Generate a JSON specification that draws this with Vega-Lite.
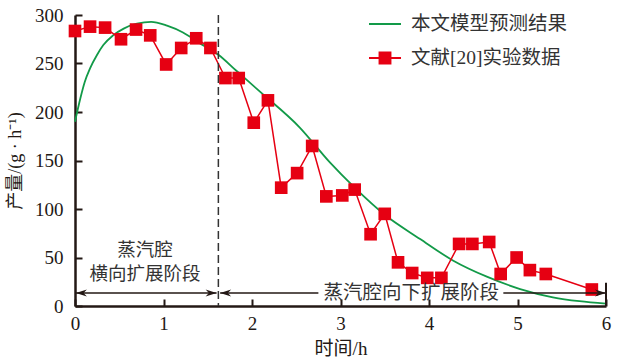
{
  "$schema": "https://vega.github.io/schema/vega-lite/v6.json",
  "width": 531,
  "height": 291,
  "autosize": {"type": "none"},
  "padding": {"left": 75, "top": 15, "right": 37, "bottom": 57},
  "background": "white",
  "config": {
    "view": {"stroke": null},
    "font": "Liberation Serif, Noto Sans CJK SC",
    "axis": {
      "domainColor": "#231815",
      "domainWidth": 2.5,
      "tickColor": "#231815",
      "tickWidth": 2,
      "tickSize": -7,
      "grid": false,
      "labelFlush": false,
      "labelFont": "Liberation Serif",
      "labelFontSize": 19,
      "labelColor": "#231815",
      "titleFont": "Liberation Serif, Noto Sans CJK SC",
      "titleFontSize": 18,
      "titleFontWeight": "normal",
      "titleColor": "#231815"
    },
    "legend": {
      "padding": 0,
      "labelFont": "Liberation Serif, Noto Sans CJK SC",
      "labelFontSize": 19.5,
      "labelColor": "#333333",
      "labelOffset": 9,
      "rowPadding": 7,
      "symbolSize": 1024,
      "symbolStrokeWidth": 2
    }
  },
  "datasets": {
    "model": [
      {"t": 0, "v": 190}, {"t": 0.06, "v": 214}, {"t": 0.11, "v": 231}, {"t": 0.17, "v": 245},
      {"t": 0.25, "v": 259}, {"t": 0.32, "v": 269}, {"t": 0.43, "v": 279}, {"t": 0.55, "v": 286},
      {"t": 0.70, "v": 291}, {"t": 0.86, "v": 293}, {"t": 1.04, "v": 289}, {"t": 1.22, "v": 282},
      {"t": 1.41, "v": 271}, {"t": 1.62, "v": 259}, {"t": 1.83, "v": 242}, {"t": 2.09, "v": 221},
      {"t": 2.54, "v": 184}, {"t": 2.88, "v": 148}, {"t": 3.16, "v": 122}, {"t": 3.50, "v": 94},
      {"t": 3.90, "v": 69}, {"t": 4.27, "v": 47}, {"t": 4.66, "v": 30}, {"t": 5.03, "v": 17.5},
      {"t": 5.40, "v": 9}, {"t": 5.70, "v": 5}, {"t": 6.0, "v": 2.5}
    ],
    "exp": [
      {"t": 0.00, "v": 283.5}, {"t": 0.17, "v": 288}, {"t": 0.34, "v": 287}, {"t": 0.52, "v": 275},
      {"t": 0.69, "v": 285}, {"t": 0.85, "v": 279}, {"t": 1.03, "v": 249}, {"t": 1.20, "v": 266},
      {"t": 1.37, "v": 276}, {"t": 1.53, "v": 266}, {"t": 1.70, "v": 235}, {"t": 1.85, "v": 235},
      {"t": 2.02, "v": 189}, {"t": 2.18, "v": 212}, {"t": 2.33, "v": 122}, {"t": 2.51, "v": 137},
      {"t": 2.68, "v": 165}, {"t": 2.84, "v": 113}, {"t": 3.02, "v": 114}, {"t": 3.16, "v": 120},
      {"t": 3.34, "v": 74}, {"t": 3.50, "v": 95}, {"t": 3.65, "v": 45}, {"t": 3.81, "v": 34},
      {"t": 3.98, "v": 29}, {"t": 4.14, "v": 29}, {"t": 4.34, "v": 64}, {"t": 4.49, "v": 64},
      {"t": 4.68, "v": 66}, {"t": 4.81, "v": 33}, {"t": 4.99, "v": 50}, {"t": 5.14, "v": 37},
      {"t": 5.32, "v": 33}, {"t": 5.84, "v": 17}
    ],
    "divider": [{"t": 1.62}],
    "arrows": [
      {"t": 0.01, "t1": 1.60, "v": 13.4},
      {"t": 1.64, "t1": 2.75, "v": 13.4},
      {"t": 4.84, "t1": 6.0, "v": 13.4}
    ],
    "heads": [
      {"t": 0.01, "v": 13.4, "dir": "left"},
      {"t": 1.60, "v": 13.4, "dir": "right"},
      {"t": 1.64, "v": 13.4, "dir": "left"},
      {"t": 6.0, "v": 13.4, "dir": "right"}
    ],
    "endbar": [{"t": 6.0, "v": 0, "v1": 24}],
    "labels": [
      {"t": 0.79, "v": 57.5, "text": "蒸汽腔", "size": "s"},
      {"t": 0.79, "v": 33, "text": "横向扩展阶段", "size": "s"},
      {"t": 3.80, "v": 13.4, "text": "蒸汽腔向下扩展阶段", "size": "l"}
    ]
  },
  "encoding": {
    "x": {"field": "t", "type": "quantitative", "scale": {"domain": [0, 6], "nice": false},
          "axis": {"values": [0, 1, 2, 3, 4, 5, 6], "title": "时间/h", "labelPadding": 15, "titlePadding": 6, "titleFontSize": 19}},
    "y": {"field": "v", "type": "quantitative", "scale": {"domain": [0, 300], "nice": false},
          "axis": {"values": [0, 50, 100, 150, 200, 250, 300], "title": "产量/(g · h⁻¹)", "labelPadding": 19, "titlePadding": 10}}
  },
  "layer": [
    {
      "data": {"name": "model"},
      "mark": {"type": "line", "strokeWidth": 1.8, "interpolate": "monotone"},
      "encoding": {
        "color": {
          "datum": "本文模型预测结果",
          "scale": {"domain": ["本文模型预测结果", "文献[20]实验数据"], "range": ["#129a48", "#e60012"]},
          "legend": {
            "title": null,
            "orient": "none",
            "legendX": 293,
            "legendY": -8,
            "encode": {
              "symbols": {
                "update": {
                  "shape": {"signal": "datum.value === '文献[20]实验数据' ? 'M-1,0H1M-0.34,-0.34H0.34V0.34H-0.34Z' : 'M-1,0H1'"},
                  "fill": {"signal": "datum.value === '文献[20]实验数据' ? '#e60012' : 'transparent'"},
                  "stroke": {"signal": "datum.value === '文献[20]实验数据' ? '#e60012' : '#129a48'"},
                  "strokeWidth": {"value": 2},
                  "opacity": {"value": 1}
                }
              }
            }
          }
        }
      }
    },
    {
      "data": {"name": "exp"},
      "mark": {"type": "line", "strokeWidth": 1.5},
      "encoding": {
        "color": {"datum": "文献[20]实验数据"}
      }
    },
    {
      "data": {"name": "exp"},
      "mark": {"type": "point", "shape": "square", "filled": true, "size": 160, "color": "#e60012", "opacity": 1}
    },
    {
      "data": {"name": "divider"},
      "mark": {"type": "rule", "strokeDash": [8, 4], "strokeWidth": 1.5, "color": "#333333"},
      "encoding": {
        "y": {"value": 0},
        "y2": {"value": 291}
      }
    },
    {
      "data": {"name": "arrows"},
      "mark": {"type": "rule", "strokeWidth": 1.5, "color": "#231815"},
      "encoding": {
        "x2": {"field": "t1"}
      }
    },
    {
      "data": {"name": "heads"},
      "mark": {"type": "point", "filled": true, "size": 121, "color": "#231815", "opacity": 1},
      "encoding": {
        "shape": {"field": "dir", "type": "nominal",
                  "scale": {"domain": ["left", "right"], "range": ["M0,0L2,-0.65L1.4,0L2,0.65Z", "M0,0L-2,-0.65L-1.4,0L-2,0.65Z"]},
                  "legend": null}
      }
    },
    {
      "data": {"name": "endbar"},
      "mark": {"type": "rule", "strokeWidth": 2, "color": "#231815"},
      "encoding": {
        "y2": {"field": "v1"}
      }
    },
    {
      "data": {"name": "labels"},
      "mark": {"type": "text", "font": "Noto Sans CJK SC", "color": "#333333", "align": "center", "baseline": "middle"},
      "encoding": {
        "text": {"field": "text"},
        "size": {"field": "size", "type": "nominal", "scale": {"domain": ["s", "l"], "range": [18.5, 19.5]}, "legend": null}
      }
    }
  ]
}
